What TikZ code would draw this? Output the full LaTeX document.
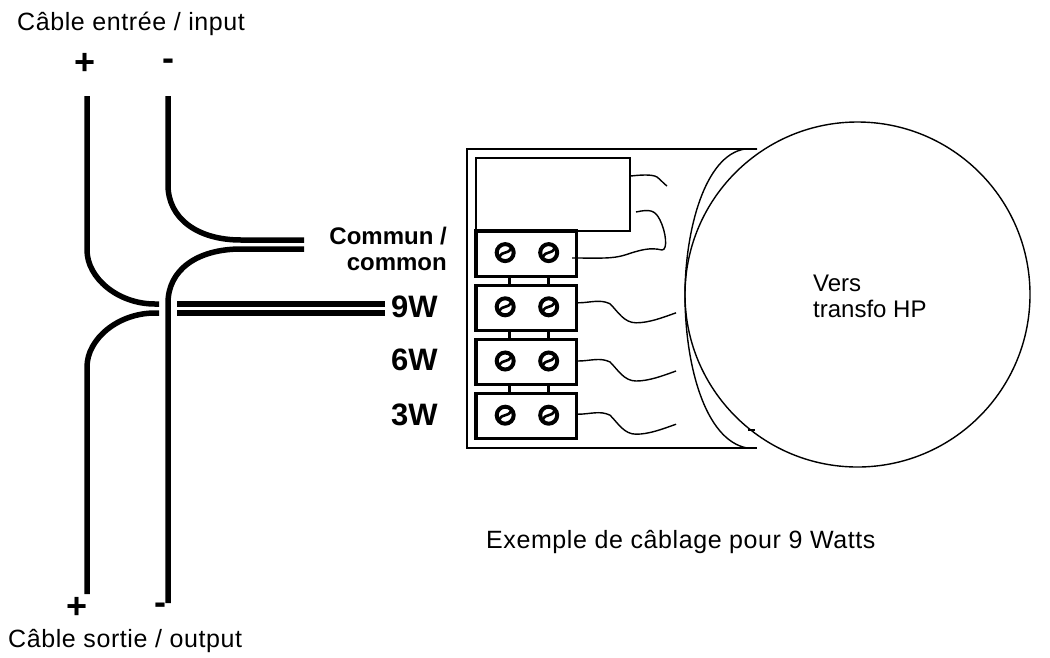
\documentclass[tikz,border=0pt]{standalone}
\usepackage{fontspec}
\setmainfont{Liberation Sans}
\newfontfamily\spacedfont[LetterSpace=2.4]{Liberation Sans}
\usetikzlibrary{chains, positioning}

\begin{document}
\begin{tikzpicture}[
   x = 1pt, y = -1pt,
   start chain = going below,
   node distance = 5.7pt,
   wire/.style = {line width=5.5pt},
   lead/.style = {line width=1.4pt},
   link/.style = {line width=3pt},
   outline/.style = {line width=1.4pt},
   caption/.style = {inner sep=0pt, anchor=base west, font=\spacedfont\fontsize{25}{28}\selectfont},
   polarity/.style = {inner sep=0pt, anchor=base, font=\bfseries\fontsize{36}{40}\selectfont},
   power/.style = {inner sep=0pt, anchor=base west, font=\bfseries\fontsize{31}{36}\selectfont},
   terminal/.style = {draw, line width=3.3pt, minimum width=100.4pt, minimum height=45.2pt},
   screw/.style = {circle, draw, line width=4pt, minimum size=17pt, inner sep=0pt,
      path picture = {\draw[line width=2.6pt] ([shift={(-6,5)}]path picture bounding box.center)
         .. controls +(3,-8) and +(-3,8) .. ([shift={(6,-5)}]path picture bounding box.center);}}]
   \useasboundingbox (0,0) rectangle (1050,657);

   % texts
   \node[caption] (input) at (17,30) {Câble entrée / input};
   \node[caption] (output) at (8,647) {Câble sortie / output};
   \node[caption] (example) at (486,548) {Exemple de câblage pour 9 Watts};
   \node[polarity] (plusin) at (85,74) {+};
   \node[polarity] (minusin) at (168,70.5) {-};
   \node[polarity] (plusout) at (77,618) {+};
   \node[polarity] (minusout) at (160,614.5) {-};
   \node[inner sep=0pt, anchor=east, align=right, font=\bfseries\fontsize{24}{26}\selectfont] (common) at (447,249) {Commun /\\common};
   \node[power] (p9) at (391,317) {9W};
   \node[power] (p6) at (391,370) {6W};
   \node[power] (p3) at (391,425) {3W};

   % cables
   \coordinate (inplus) at (87,96);
   \coordinate (inminus) at (168,96);
   \coordinate (outplus) at (87,594);
   \coordinate (outminus) at (168,603);
   \coordinate (c1) at (304,240);
   \coordinate (c2) at (304,249);
   \coordinate (w1) at (159,304);
   \coordinate (w2) at (159,313);
   \coordinate (n1) at (177,304);
   \coordinate (n2) at (177,313);
   \coordinate (f1) at (385,304);
   \coordinate (f2) at (385,313);

   \draw[wire] (inplus) -- (87,250) .. controls (87,278) and (118,304) .. (155,304) -- (w1);
   \draw[wire] (outplus) -- (87,367) .. controls (87,339) and (118,313) .. (155,313) -- (w2);
   \draw[wire] (inminus) -- (168,185) .. controls (168,218) and (197,240) .. (241,240) -- (c1);
   \draw[wire] (outminus) -- (168,303) .. controls (168,270) and (197,249) .. (241,249) -- (c2);
   \draw[wire] (n1) -- (f1);
   \draw[wire] (n2) -- (f2);

   % housing
   \node[draw, outline, minimum width=154pt, minimum height=73pt] (relay) at (553,194.5) {};
   \node[circle, draw, outline, minimum size=345pt, inner sep=0pt, align=left] (transfo) at (857.5,294.5) {};
   \node[inner sep=0pt, anchor=west, align=left, font=\fontsize{24}{26}\selectfont] (vers) at (813,296.5) {Vers\\transfo HP};
   \draw[outline] (757,149) -- (467,149) -- (467,448) -- (757,448);
   \draw[outline] (757,149) -- (745,149) .. controls (705,155) and (685,230) .. (685,295)
      .. controls (685,365) and (705,440) .. (747,448);
   \draw[outline] (748,430) -- (755,430);

   % terminals
   \node[terminal, on chain] (t1) at (526.2,253.6) {};
   \node[terminal, on chain] (t9) {};
   \node[terminal, on chain] (t6) {};
   \node[terminal, on chain] (t3) {};

   \node[screw, xshift=-21pt, yshift=1pt] (s1a) at (t1) {};
   \node[screw, xshift=22.5pt, yshift=1pt] (s1b) at (t1) {};
   \node[screw, xshift=-21pt, yshift=1pt] (s9a) at (t9) {};
   \node[screw, xshift=22.5pt, yshift=1pt] (s9b) at (t9) {};
   \node[screw, xshift=-21pt, yshift=1pt] (s6a) at (t6) {};
   \node[screw, xshift=22.5pt, yshift=1pt] (s6b) at (t6) {};
   \node[screw, xshift=-21pt, yshift=1pt] (s3a) at (t3) {};
   \node[screw, xshift=22.5pt, yshift=1pt] (s3b) at (t3) {};

   \draw[link] ([xshift=-17pt]t1.south) -- ([xshift=-17pt]t9.north);
   \draw[link] ([xshift=22.5pt]t1.south) -- ([xshift=22.5pt]t9.north);
   \draw[link] ([xshift=-17pt]t9.south) -- ([xshift=-17pt]t6.north);
   \draw[link] ([xshift=22.5pt]t9.south) -- ([xshift=22.5pt]t6.north);
   \draw[link] ([xshift=-17pt]t6.south) -- ([xshift=-17pt]t3.north);
   \draw[link] ([xshift=22.5pt]t6.south) -- ([xshift=22.5pt]t3.north);

   % leads
   \draw[lead] ([yshift=5pt]t9.east) .. controls +(12,0) and +(-10,-5) .. ++(32,1)
      .. controls +(8,8) and +(-12,0) .. ++(26,19) .. controls +(13,0) and +(-14,5) .. ++(40,-10);
   \draw[lead] ([yshift=1pt]t6.east) .. controls +(12,0) and +(-10,-5) .. ++(32,1)
      .. controls +(8,8) and +(-12,0) .. ++(26,19) .. controls +(13,0) and +(-14,5) .. ++(40,-10);
   \draw[lead] ([yshift=2pt]t3.east) .. controls +(12,0) and +(-10,-5) .. ++(32,1)
      .. controls +(8,8) and +(-12,0) .. ++(26,19) .. controls +(13,0) and +(-14,5) .. ++(40,-10);
   \draw[lead] (relay.east |- 0,176) .. controls (640,175) and (652,174) .. (657,177) .. controls (661,180) and (664,184) .. (667,186);
   \draw[lead] (572,258) .. controls (600,258) and (612,259) .. (625,255) .. controls (640,250) and (650,247) .. (662,250)
      .. controls (668,250) and (666,232) .. (660,220) .. controls (655,210) and (650,209) .. (636,212);
\end{tikzpicture}
\end{document}
